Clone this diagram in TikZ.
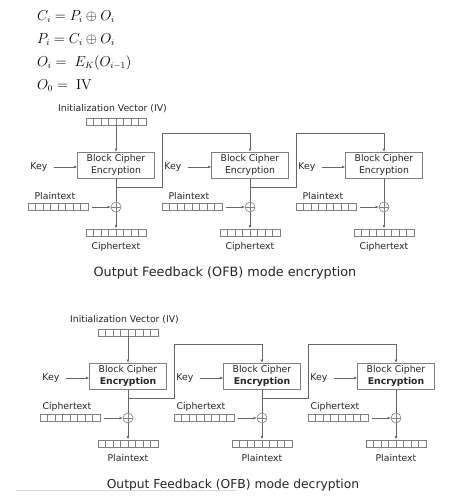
\documentclass[tikz,border=0pt]{standalone}
\usepackage[no-math]{fontspec}
\usetikzlibrary{arrows.meta,calc}
\newfontfamily\dv{DejaVu Sans}

\tikzset{
  lbl/.style={font=\dv\fontsize{9.3}{11}\selectfont, text=black!85, inner sep=0pt},
  titlelbl/.style={font=\dv\fontsize{#1}{15}\selectfont, text=black!85, inner sep=0pt},
  cipherbox/.style={draw=black!50, line width=0.6pt, minimum width=77pt, minimum height=26.5pt,
    inner sep=0pt, align=center, font=\dv\fontsize{9.3}{12}\selectfont, text=black!85},
  reg/.style={draw=black!50, line width=0.5pt, minimum width=60pt, minimum height=7pt, inner sep=0pt,
    path picture={\foreach \k in {1,...,7}{\draw[black!50,line width=0.5pt]
      ($(path picture bounding box.south west)!\k/8!(path picture bounding box.south east)$) -- ++(0,7pt);}}},
  xorc/.style={circle, draw=black!50, line width=0.6pt, minimum size=10pt, inner sep=0pt,
    path picture={\draw[black!50,line width=0.6pt]
      (path picture bounding box.north) -- (path picture bounding box.south)
      (path picture bounding box.west) -- (path picture bounding box.east);}},
  conn/.style={draw=black!60, line width=0.6pt},
  arr/.style={conn, -{Latex[length=3.2pt,width=2.8pt]}},
  eqn/.style={anchor=base west, inner sep=0pt, font=\fontsize{13.5}{16}\selectfont},
}

% #1 prefix, #2 input label, #3 output label, #4 second box line
\newcommand\ofbpanel[4]{%
  \node[lbl] (#1ivl) at (112.5,109) {Initialization Vector (IV)};
  \node[reg] (#1ivr) at (116,121.5) {};
  \foreach \i/\cx in {1/116,2/250,3/384}{
    \node[cipherbox] (#1box\i) at (\cx,165.25) {Block Cipher\\#4};
    \node[lbl, anchor=east] (#1key\i) at (\cx-68.5,167) {Key};
    \draw[arr, shorten <=6pt] (#1key\i.east) -- (#1key\i.east -| #1box\i.west);
    \node[lbl] (#1inl\i) at (\cx-61,196) {#2};
    \node[reg] (#1in\i) at (\cx-58,207) {};
    \node[xorc] (#1x\i) at (\cx,207) {};
    \draw[arr, shorten <=4pt] (#1in\i) -- (#1x\i);
    \draw[conn] (#1box\i) -- (#1x\i);
    \node[reg] (#1out\i) at (\cx,232.5) {};
    \draw[arr, shorten >=0.5pt] (#1x\i) -- (#1out\i);
    \node[lbl] (#1outl\i) at (\cx,247) {#3};
    \coordinate (#1br\i) at (\cx,187);
    \coordinate (#1up\i) at (\cx+46,133);
  }
  \draw[arr] (#1ivr) -- (#1box1);
  \foreach \i/\j in {1/2,2/3}{
    \draw[arr] (#1br\i) -| (#1up\i) -| (#1box\j.north);
  }
}

\begin{document}
\begin{tikzpicture}[x=1pt,y=-1pt]
  \useasboundingbox (0,0) rectangle (464,499);
  \fill[white] (0,0) rectangle (464,499);

  \node[eqn] (eq1) at (37,20) {$C_i = P_i \oplus O_i$};
  \node[eqn] (eq2) at (37,43) {$P_i = C_i \oplus O_i$};
  \node[eqn] (eq3) at (37,66) {$O_i = \; E_K(O_{i-1})$};
  \node[eqn] (eq4) at (37,89) {$O_0 = \; \mathrm{IV}$};

  \begin{scope}
    \ofbpanel{T}{Plaintext}{Ciphertext}{Encryption}
  \end{scope}
  \node[titlelbl=12.8] (ttitle) at (225,273) {Output Feedback (OFB) mode encryption};

  \begin{scope}[shift={(12,211)}]
    \ofbpanel{B}{Ciphertext}{Plaintext}{\textbf{Encryption}}
  \end{scope}
  \node[titlelbl=12.3] (btitle) at (233,485) {Output Feedback (OFB) mode decryption};
  \draw[black!15, line width=1.5pt] (16,490.5) -- (237,490.5);
\end{tikzpicture}
\end{document}
